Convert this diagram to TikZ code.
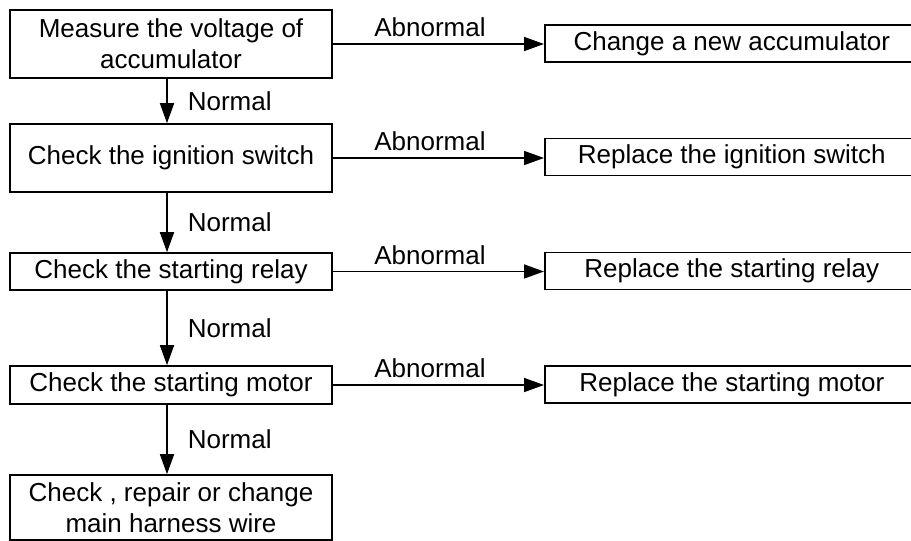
\documentclass[tikz,border=0pt]{standalone}
\usepackage{fontspec}
\setmainfont{Liberation Sans}
\usetikzlibrary{arrows.meta}

\begin{document}
\begin{tikzpicture}[x=0.5pt,y=-0.5pt,
    every node/.style={font=\fontsize{13}{15.5}\selectfont},
    stepbox/.style={draw,line width=0.8pt,align=center,inner sep=0pt,minimum width=161pt},
    fixbox/.style={draw,line width=0.8pt,anchor=west,inner sep=0pt,minimum width=187pt,minimum height=18.5pt},
    flow/.style={-{Triangle[length=10pt,width=7pt]},line width=0.8pt}]

    \useasboundingbox (0,0) rectangle (911,541);

    % Checks down the left column
    \node[stepbox,minimum height=34pt] (s1) at (171,44) {Measure the voltage of\\accumulator};
    \foreach \i/\y/\h/\t in {2/158/34pt/{Check the ignition switch},
                             3/271.5/18.5pt/{Check the starting relay},
                             4/385/19pt/{Check the starting motor}} {
      \node[stepbox,minimum height=\h] (s\i) at (171,\y) {\t};
    }
    \node[stepbox,minimum height=32.5pt] (s5) at (171,507.5) {Check , repair or change\\main harness wire};

    % Remedies on the right (cut off by the page edge)
    \foreach \i/\y/\t in {1/43.5/{Change a new accumulator},
                          2/157/{Replace the ignition switch},
                          3/271/{Replace the starting relay},
                          4/384.5/{Replace the starting motor}} {
      \node[fixbox] (r\i) at (544,\y) {\t};
    }

    % Normal branch
    \foreach \i/\j in {1/2,2/3,3/4,4/5} {
      \draw[flow] ([xshift=-2pt]s\i.south) -- ([xshift=-2pt]s\j.north)
        node[midway,right=8pt,inner sep=2pt] {Normal};
    }

    % Abnormal branch
    \foreach \i in {1,...,4} {
      \draw[flow] (s\i.east) -- (s\i.east -| r\i.west)
        node[pos=0.46,above,inner sep=3pt] {Abnormal};
    }

  \end{tikzpicture}
\end{document}
